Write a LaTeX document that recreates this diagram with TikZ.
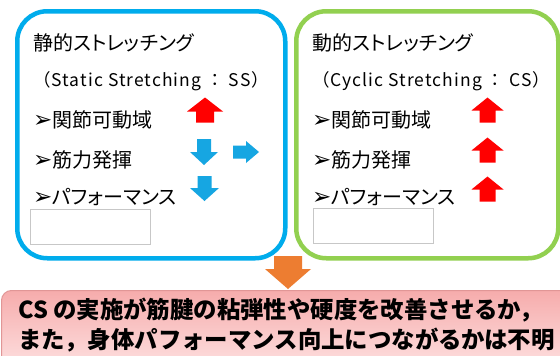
\documentclass[tikz,border=0pt]{standalone}
\usepackage{fontspec}
\setmainfont{Noto Sans CJK JP}
\newfontfamily\jpp{Noto Sans CJK JP}[RawFeature=+palt]
\newfontfamily\latsp{Noto Sans CJK JP}[LetterSpace=6]
\newfontfamily\symfont{DejaVu Sans}
\newcommand\bul{{\symfont\fontsize{23}{24}\selectfont ➢}}
\definecolor{boxblue}{RGB}{0,172,236}
\definecolor{boxgreen}{RGB}{146,208,80}
\definecolor{arrred}{RGB}{255,0,0}
\definecolor{arrblue}{RGB}{22,166,226}
\definecolor{arrorange}{RGB}{237,125,49}
\definecolor{respinktop}{RGB}{246,172,172}
\definecolor{respinkbot}{RGB}{253,222,222}
\definecolor{resborder}{RGB}{225,150,150}
\tikzset{
  pics/barrow/.style args={#1/#2/#3/#4}{code={
    \path[pic actions] (0,{-#3/2}) -- ({#1/2},{-#3/2+#4}) -- ({#2/2},{-#3/2+#4}) -- ({#2/2},{#3/2})
      -- ({-#2/2},{#3/2}) -- ({-#2/2},{-#3/2+#4}) -- ({-#1/2},{-#3/2+#4}) -- cycle;}},
  bigbox/.style={line width=4.5pt, rounded corners=30pt, anchor=north west, minimum width=#1, minimum height=247pt, inner sep=0pt},
  txt/.style={anchor=west, inner sep=0pt, font=\jpp\fontsize{20}{24}\selectfont},
  lat/.style={anchor=west, inner sep=0pt, font=\latsp\fontsize{17.5}{22}\selectfont},
  blank/.style={draw=black!22, fill=white, line width=0.8pt, minimum width=120pt, minimum height=35pt, anchor=north west, inner sep=0pt},
  restext/.style={anchor=west, inner sep=0pt, font=\fontsize{23.4}{26}\selectfont\bfseries},
}
\begin{document}
\begin{tikzpicture}[x=1pt,y=-1pt]
\useasboundingbox (0,0) rectangle (560,356);
\clip (0,0) rectangle (560,356);
\fill[white] (0,0) rectangle (560,356);
% boxes
\node[bigbox=268pt, draw=boxblue] (ss) at (15,9) {};
\node[bigbox=262pt, draw=boxgreen] (cs) at (294,9) {};
% left texts
\node[txt] (ss1) at (33,43) {静的ストレッチング};
\node[lat] (ss2) at (33,81) {（Static Stretching ： SS）};
\node[txt] (ss3) at (33,120) {\bul 関節可動域};
\node[txt] (ss4) at (33,160) {\bul 筋力発揮};
\node[txt] (ss5) at (33,197) {\bul パフォーマンス};
\node[blank] (ssb) at (30,209) {};
% right texts
\node[txt] (cs1) at (312,43) {動的ストレッチング};
\node[lat] (cs2) at (312,81) {（Cyclic Stretching ： CS）};
\node[txt] (cs3) at (312,120) {\bul 関節可動域};
\node[txt] (cs4) at (312,160) {\bul 筋力発揮};
\node[txt] (cs5) at (312,197) {\bul パフォーマンス};
\node[blank] (csb) at (313,208) {};
% arrows left
\pic[fill=arrred] at (205,110) {barrow=36/18/25/14};
\pic[fill=arrblue, rotate=180] at (204,152) {barrow=28/14/26/13};
\pic[fill=arrblue, rotate=-90] at (246,152) {barrow=22/13/26/13};
\pic[fill=arrblue, rotate=180] at (204.5,188.5) {barrow=29/14/25/13};
% arrows right
\pic[fill=arrred] at (487.5,110) {barrow=32/16/25/13};
\pic[fill=arrred] at (487.5,150) {barrow=32/16/25/13};
\pic[fill=arrred] at (487.5,189) {barrow=32/16/25/13};
% result box
\node[draw=resborder, line width=1pt, top color=respinktop, bottom color=respinkbot, rounded corners=10pt, anchor=north west, minimum width=575pt, minimum height=75pt, inner sep=0pt] (res) at (1,290) {};
\pic[fill=arrorange, rotate=180] at (288,272.5) {barrow=46/28/33/20};
\node[restext] (r1) at (18,310) {CS の実施が筋腱の粘弾性や硬度を改善させるか，};
\node[restext] (r2) at (18,340) {また，身体パフォーマンス向上につながるかは不明};
\end{tikzpicture}
\end{document}
